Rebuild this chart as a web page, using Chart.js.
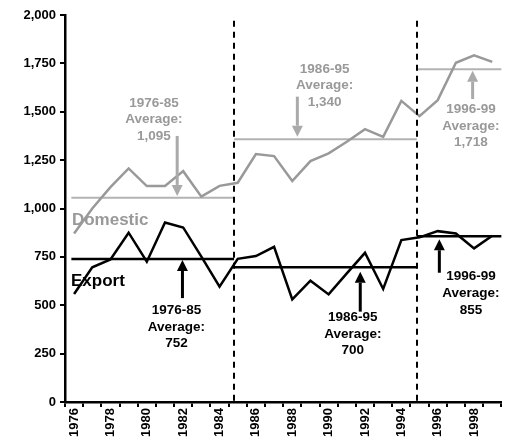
<!DOCTYPE html>
<html>
<head>
<meta charset="utf-8">
<script src="https://cdn.jsdelivr.net/npm/chart.js@4.4.1/dist/chart.umd.min.js"></script>
<style>
html,body{margin:0;padding:0;background:#fff;}
#wrap{width:509px;height:442px;position:relative;}
</style>
</head>
<body>
<div id="wrap"><canvas id="c" width="509" height="442"></canvas></div>
<script>
// ---- data ----
const years = ['1976','1977','1978','1979','1980','1981','1982','1983','1984','1985','1986','1987','1988','1989','1990','1991','1992','1993','1994','1995','1996','1997','1998','1999'];
const domestic = [871, 1000, 1110, 1207, 1116, 1116, 1193, 1061, 1117, 1133, 1281, 1271, 1142, 1245, 1285, 1345, 1410, 1370, 1556, 1477, 1560, 1753, 1792, 1758];
const exportVals = [558, 696, 737, 875, 725, 928, 902, 751, 596, 740, 754, 802, 530, 627, 556, 665, 771, 584, 837, 851, 883, 871, 794, 859];
const periodNames = ['1976-85', '1986-95', '1996-99'];
const domesticAvgLabels = ['1,095', '1,340', '1,718'];
const exportAvgLabels = ['752', '700', '855'];
const domesticAvgDrawn = [1055, 1358, 1720];
const exportAvgDrawn = [739, 696, 857];
const yTicks = [0, 250, 500, 750, 1000, 1250, 1500, 1750, 2000];

// ---- layout of annotations (category index / value coordinates) ----
const periodEdges = [-0.15, 8.8, 18.85, 23.5];
const GRAY = '#999999';
const LIGHT = '#b3b3b3';
const ARROWGRAY = '#aaaaaa';
const annots = [
  {lines:[periodNames[0],'Average:',domesticAvgLabels[0]], color:GRAY, tx:4.39, ty:1545, ax:5.67, a0:1375, a1:1065},
  {lines:[periodNames[1],'Average:',domesticAvgLabels[1]], color:GRAY, tx:13.78, ty:1721, ax:12.28, a0:1578, a1:1371},
  {lines:[periodNames[2],'Average:',domesticAvgLabels[2]], color:GRAY, tx:21.83, ty:1513, ax:21.92, a0:1566, a1:1712},
  {lines:[periodNames[0],'Average:',exportAvgLabels[0]], color:'#000', tx:5.63, ty:475, ax:5.96, a0:537, a1:734},
  {lines:[periodNames[1],'Average:',exportAvgLabels[1]], color:'#000', tx:15.33, ty:438, ax:15.74, a0:467, a1:673},
  {lines:[periodNames[2],'Average:',exportAvgLabels[2]], color:'#000', tx:21.83, ty:648, ax:20.09, a0:668, a1:841}
];
const FONT = '"Liberation Sans", Arial, sans-serif';

const annotPlugin = {
  id: 'annot',
  beforeDatasetsDraw(chart) {
    const x = chart.scales.x, y = chart.scales.y, ctx = chart.ctx;
    ctx.save();
    for (let i = 0; i < 3; i++) {
      const x0 = x.getPixelForValue(periodEdges[i]);
      const x1 = x.getPixelForValue(periodEdges[i + 1]);
      ctx.strokeStyle = LIGHT; ctx.lineWidth = 2;
      ctx.beginPath();
      let py = y.getPixelForValue(domesticAvgDrawn[i]);
      ctx.moveTo(x0, py); ctx.lineTo(x1, py); ctx.stroke();
      ctx.strokeStyle = '#000'; ctx.lineWidth = 2.5;
      ctx.beginPath();
      py = y.getPixelForValue(exportAvgDrawn[i]);
      ctx.moveTo(x0, py); ctx.lineTo(x1, py); ctx.stroke();
    }
    ctx.restore();
  },
  afterDatasetsDraw(chart) {
    const x = chart.scales.x, y = chart.scales.y, ctx = chart.ctx;
    ctx.save();
    // dashed dividers
    ctx.strokeStyle = '#000'; ctx.lineWidth = 2; ctx.setLineDash([6, 5]);
    [periodEdges[1], periodEdges[2]].forEach(v => {
      const px = Math.round(x.getPixelForValue(v));
      ctx.beginPath();
      ctx.moveTo(px, y.getPixelForValue(1970));
      ctx.lineTo(px, y.getPixelForValue(0));
      ctx.stroke();
    });
    ctx.setLineDash([]);
    // series labels
    ctx.font = 'bold 17px ' + FONT;
    ctx.textBaseline = 'middle'; ctx.textAlign = 'left';
    ctx.fillStyle = GRAY;
    ctx.fillText('Domestic', x.getPixelForValue(-0.12), y.getPixelForValue(940));
    ctx.fillStyle = '#000';
    ctx.fillText('Export', x.getPixelForValue(-0.17), y.getPixelForValue(623));
    // annotations
    annots.forEach(a => {
      const col = a.color === GRAY ? ARROWGRAY : '#000';
      const ax = x.getPixelForValue(a.ax);
      const ya = y.getPixelForValue(a.a0), yb = y.getPixelForValue(a.a1);
      const dir = yb > ya ? 1 : -1;
      const head = 11, hw = 5.5;
      ctx.strokeStyle = col; ctx.fillStyle = col; ctx.lineWidth = 3;
      ctx.beginPath();
      ctx.moveTo(ax, ya); ctx.lineTo(ax, yb - dir * head); ctx.stroke();
      ctx.beginPath();
      ctx.moveTo(ax, yb); ctx.lineTo(ax - hw, yb - dir * head); ctx.lineTo(ax + hw, yb - dir * head);
      ctx.closePath(); ctx.fill();
      ctx.fillStyle = a.color;
      ctx.font = 'bold 13.5px ' + FONT;
      ctx.textAlign = 'center'; ctx.textBaseline = 'middle';
      const tx = x.getPixelForValue(a.tx);
      const ty = y.getPixelForValue(a.ty);
      a.lines.forEach((t, k) => ctx.fillText(t, tx, ty + k * 16.7));
    });
    ctx.restore();
  }
};

new Chart(document.getElementById('c'), {
  type: 'line',
  data: {
    labels: years,
    datasets: [
      {label: 'Domestic', data: domestic, borderColor: GRAY, borderWidth: 2.5, pointRadius: 0, tension: 0, fill: false},
      {label: 'Export', data: exportVals, borderColor: '#000', borderWidth: 2.5, pointRadius: 0, tension: 0, fill: false}
    ]
  },
  options: {
    responsive: false,
    animation: false,
    devicePixelRatio: 1,
    layout: {padding: {top: 15, right: 7, left: 0, bottom: 0}},
    plugins: {legend: {display: false}, tooltip: {enabled: false}},
    scales: {
      x: {
        type: 'category',
        offset: true,
        grid: {offset: true, drawOnChartArea: false, drawTicks: true, tickLength: 5, color: '#000', lineWidth: 2},
        border: {display: true, color: '#000', width: 2.5},
        ticks: {
          autoSkip: false, minRotation: 90, maxRotation: 90, padding: 1,
          color: '#000', font: {family: FONT, size: 13, weight: 'bold'},
          callback: function(v, i) { const l = this.getLabelForValue(v); return (parseInt(l) % 2 === 0) ? l : ''; }
        },
        afterFit(s) { s.height = 40; }
      },
      y: {
        min: 0, max: 2000,
        afterBuildTicks(s) { s.ticks = yTicks.map(v => ({value: v})); },
        grid: {drawOnChartArea: false, drawTicks: true, tickLength: 5, color: '#000', lineWidth: 2},
        border: {display: true, color: '#000', width: 2.5},
        ticks: {
          padding: 4, color: '#000', font: {family: FONT, size: 13, weight: 'bold'},
          callback: v => v.toLocaleString('en-US')
        },
        afterFit(s) { s.width = 65; }
      }
    }
  },
  plugins: [annotPlugin]
});
</script>
</body>
</html>
